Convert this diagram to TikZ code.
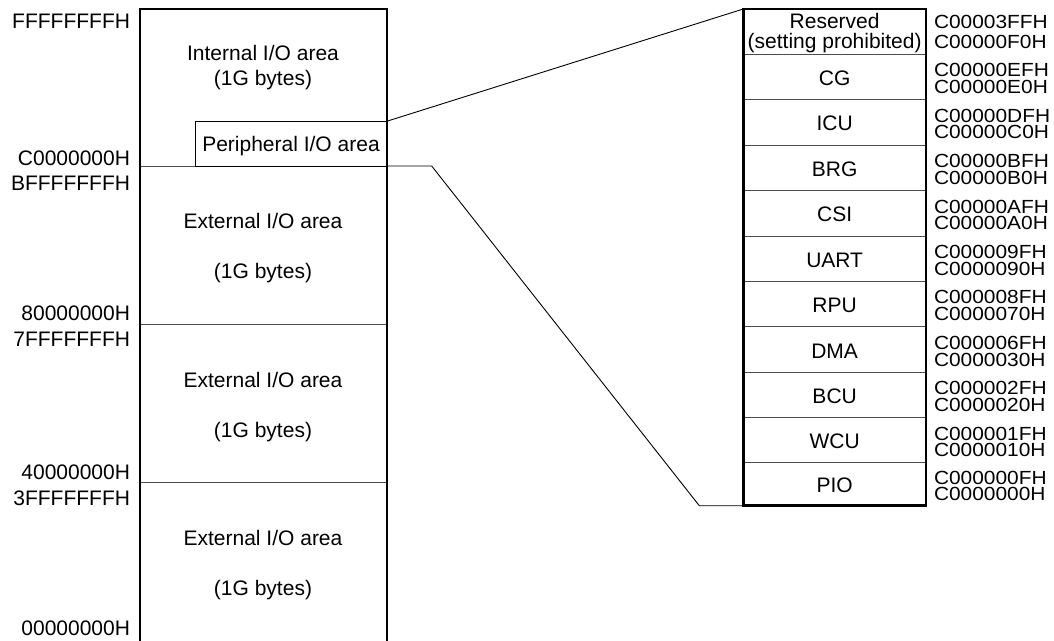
\documentclass[tikz,border=0pt]{standalone}
\usepackage{fontspec}
\setmainfont{Liberation Sans}
\newfontfamily\addrfont[FakeStretch=1.1]{Liberation Sans}
\begin{document}
\begin{tikzpicture}[x=1pt,y=-1pt,
  font=\fontsize{21}{20}\selectfont,
  inner sep=0pt, outer sep=0pt,
  area/.style={minimum width=247.2pt, anchor=north west},
  row/.style={minimum width=182.7pt, anchor=north west},
  thickbox/.style={line width=2pt},
  divline/.style={line width=1pt, draw=black!70},
  conn/.style={line width=0.9pt},
  txt/.style={anchor=base},
  addrL/.style={anchor=base east},
  addrR/.style={anchor=base west, font=\addrfont\fontsize{19}{19}\selectfont}]
\useasboundingbox (0,0) rectangle (1054,640);

% ---------- left memory map ----------
\node[area, minimum height=157.3pt] (intio) at (139.5,8.7) {};
\node[area, minimum height=158.7pt] (ext3) at (139.5,166) {};
\node[area, minimum height=158pt] (ext2) at (139.5,324.7) {};
\node[area, minimum height=159pt] (ext1) at (139.5,482.7) {};

\draw[divline] (ext3.north west) -- (ext3.north east);
\draw[divline] (ext2.north west) -- (ext2.north east);
\draw[divline] (ext1.north west) -- (ext1.north east);

% peripheral I/O box
\node[draw, line width=0.9pt, anchor=south east, minimum width=191.4pt, minimum height=44.7pt] (periph) at (386.7,166) {};
\node[txt] (periphtxt) at (291,151) {Peripheral I/O area};

\draw[thickbox] (intio.north west) rectangle (ext1.south east);

\node[txt] (t1a) at (263,60) {Internal I/O area};
\node[txt] (t1b) at (263,85) {(1G bytes)};
\node[txt] (t2a) at (263,228.6) {External I/O area};
\node[txt] (t2b) at (263,278.6) {(1G bytes)};
\node[txt] (t3a) at (263,387.3) {External I/O area};
\node[txt] (t3b) at (263,437.3) {(1G bytes)};
\node[txt] (t4a) at (263,545) {External I/O area};
\node[txt] (t4b) at (263,595) {(1G bytes)};

\node[addrL] (a1) at (130,28.3) {FFFFFFFFH};
\node[addrL] (a2) at (130,165.7) {C0000000H};
\node[addrL] (a3) at (130,190) {BFFFFFFFH};
\node[addrL] (a4) at (130,320.7) {80000000H};
\node[addrL] (a5) at (130,346.7) {7FFFFFFFH};
\node[addrL] (a6) at (130,479) {40000000H};
\node[addrL] (a7) at (130,505) {3FFFFFFFH};
\node[addrL] (a8) at (130,635) {00000000H};

% ---------- right peripheral map ----------
\node[row, minimum height=45.3pt] (res) at (743.3,9) {};
\node[row, minimum height=45pt]   (cg)   at (743.3,54.3) {};
\node[row, minimum height=45.7pt] (icu)  at (743.3,99.3) {};
\node[row, minimum height=45.7pt] (brg)  at (743.3,145) {};
\node[row, minimum height=45.3pt] (csi)  at (743.3,190.7) {};
\node[row, minimum height=45pt]   (uart) at (743.3,236) {};
\node[row, minimum height=45.7pt] (rpu)  at (743.3,281) {};
\node[row, minimum height=45.6pt] (dma)  at (743.3,326.7) {};
\node[row, minimum height=45pt]   (bcu)  at (743.3,372.3) {};
\node[row, minimum height=45.4pt] (wcu)  at (743.3,417.3) {};
\node[row, minimum height=43pt]   (pio)  at (743.3,462.7) {};

\foreach \r in {cg,icu,brg,csi,uart,rpu,dma,bcu,wcu,pio}
  \draw[divline] (\r.north west) -- (\r.north east);

\draw[line width=2.6pt] (res.north west) rectangle (pio.south east);

% row labels
\node[txt] (lres1) at (res.center |- 0,28.3) {Reserved};
\node[txt] (lres2) at (res.center |- 0,48.3) {(setting prohibited)};
\foreach \r/\t in {cg/CG,icu/ICU,brg/BRG,csi/CSI,uart/UART,rpu/RPU,dma/DMA,bcu/BCU,wcu/WCU,pio/PIO}
  \node[txt] (l\r) at ([yshift=-8.5pt]\r.center) {\t};

% address labels
\node[addrR] (rr1) at (934,28.3) {C00003FFH};
\node[addrR] (rr2) at (934,48.3) {C00000F0H};
\foreach \r/\u/\l in {cg/C00000EFH/C00000E0H, icu/C00000DFH/C00000C0H,
  brg/C00000BFH/C00000B0H, csi/C00000AFH/C00000A0H, uart/C000009FH/C0000090H,
  rpu/C000008FH/C0000070H, dma/C000006FH/C0000030H, bcu/C000002FH/C0000020H,
  wcu/C000001FH/C0000010H, pio/C000000FH/C0000000H} {
  \node[addrR] (u\r) at ([yshift=0pt]\r.center -| 934,0) {\u};
  \node[addrR] (d\r) at ([yshift=-16.5pt]\r.center -| 934,0) {\l};
}

% ---------- connectors ----------
\coordinate (bend1) at (431.7,166);
\coordinate (bend2) at (699.3,505.7);
\draw[conn] (periph.north east) -- (res.north west);
\draw[conn] (periph.south east) -- (bend1) -- (bend2) -- (pio.south west);
\end{tikzpicture}
\end{document}
